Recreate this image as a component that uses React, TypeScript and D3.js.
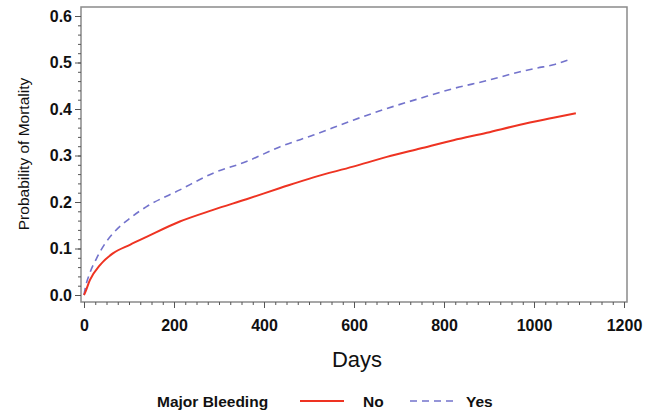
import React, { useEffect, useRef } from 'react';
import * as d3 from 'd3';

// data
const daysNo = [0, 2, 13, 36, 65, 102, 139, 213, 287, 361, 436, 510, 598, 673, 747, 821, 895, 969, 1043, 1093];
const probNo = [0, 0.004, 0.032, 0.065, 0.09, 0.108, 0.125, 0.158, 0.183, 0.206, 0.23, 0.253, 0.276, 0.297, 0.315, 0.333, 0.349, 0.366, 0.381, 0.391];
const daysYes = [0, 2, 13, 28, 47, 65, 102, 139, 213, 287, 361, 436, 510, 598, 673, 747, 821, 895, 969, 1006, 1043, 1080];
const probYes = [0, 0.011, 0.047, 0.079, 0.111, 0.133, 0.165, 0.19, 0.226, 0.262, 0.287, 0.319, 0.344, 0.376, 0.401, 0.423, 0.444, 0.461, 0.48, 0.488, 0.495, 0.507];
const xTicks = [0, 200, 400, 600, 800, 1000, 1200];
const yTicks = [0, 0.1, 0.2, 0.3, 0.4, 0.5, 0.6];
const legendTitle = 'Major Bleeding';
const seriesNames = ['No', 'Yes'];

const FONT = '"Liberation Sans", Arial, sans-serif';

export default function App() {
  const ref = useRef<SVGSVGElement>(null);

  useEffect(() => {
    const svg = d3.select(ref.current);
    svg.selectAll('*').remove();

    const frame = { left: 81, top: 7, right: 627, bottom: 302 };
    const x = d3.scaleLinear().domain([0, 1200]).range([84, 624]);
    const y = d3.scaleLinear().domain([0, 0.6]).range([295, 16]);

    // frame
    svg.append('rect')
      .attr('x', frame.left).attr('y', frame.top)
      .attr('width', frame.right - frame.left).attr('height', frame.bottom - frame.top)
      .attr('fill', 'none').attr('stroke', '#8a8a8a').attr('stroke-width', 1.5);

    // x axis
    const xMinor = d3.range(0, 1201, 25);
    const xg = svg.append('g').attr('transform', `translate(0,${frame.bottom})`);
    xg.call(d3.axisBottom(x).tickValues(xMinor).tickSize(3).tickFormat(() => ''));
    xg.append('g').call(d3.axisBottom(x).tickValues(xTicks).tickSize(6).tickPadding(12).tickFormat(d3.format('d')));
    xg.selectAll('.domain').remove();
    xg.selectAll('line').attr('stroke', '#555');
    xg.selectAll('text').attr('font-family', FONT).attr('font-size', 16).attr('font-weight', 'bold').attr('fill', '#111');

    // y axis
    const yMinor = d3.range(0, 0.601, 0.02);
    const yg = svg.append('g').attr('transform', `translate(${frame.left},0)`);
    yg.call(d3.axisLeft(y).tickValues(yMinor).tickSize(3).tickFormat(() => ''));
    yg.append('g').call(d3.axisLeft(y).tickValues(yTicks).tickSize(6).tickPadding(3).tickFormat(d3.format('.1f')));
    yg.selectAll('.domain').remove();
    yg.selectAll('line').attr('stroke', '#555');
    yg.selectAll('text').attr('font-family', FONT).attr('font-size', 16).attr('font-weight', 'bold').attr('fill', '#111');

    // curves
    const line = d3.line<[number, number]>().x((d) => x(d[0])).y((d) => y(d[1])).curve(d3.curveMonotoneX);
    const noData = daysNo.map((d, i) => [d, probNo[i]] as [number, number]);
    const yesData = daysYes.map((d, i) => [d, probYes[i]] as [number, number]);
    svg.append('path').attr('d', line(yesData)).attr('fill', 'none')
      .attr('stroke', '#7373cc').attr('stroke-width', 1.6).attr('stroke-dasharray', '7,5');
    svg.append('path').attr('d', line(noData)).attr('fill', 'none')
      .attr('stroke', '#ee3322').attr('stroke-width', 2);

    // axis titles
    svg.append('text').attr('x', 357).attr('y', 367).attr('text-anchor', 'middle')
      .attr('font-family', FONT).attr('font-size', 22).attr('fill', '#111').text('Days');
    svg.append('text').attr('transform', 'translate(29,154) rotate(-90)').attr('text-anchor', 'middle')
      .attr('font-family', FONT).attr('font-size', 15.5).attr('fill', '#111').text('Probability of Mortality');

    // legend
    const lg = svg.append('g').attr('font-family', FONT).attr('font-size', 15.5).attr('font-weight', 'bold').attr('fill', '#111');
    lg.append('text').attr('x', 157).attr('y', 407).text(legendTitle);
    lg.append('line').attr('x1', 300).attr('x2', 344).attr('y1', 401).attr('y2', 401)
      .attr('stroke', '#ee3322').attr('stroke-width', 2);
    lg.append('text').attr('x', 363).attr('y', 407).text(seriesNames[0]);
    lg.append('line').attr('x1', 410).attr('x2', 453).attr('y1', 401).attr('y2', 401)
      .attr('stroke', '#7373cc').attr('stroke-width', 1.5).attr('stroke-dasharray', '7,5');
    lg.append('text').attr('x', 466).attr('y', 407).text(seriesNames[1]);
  }, []);

  return (
    <svg ref={ref} width={654} height={412} style={{ position: 'absolute', left: 0, top: 0, background: '#fff' }} />
  );
}
